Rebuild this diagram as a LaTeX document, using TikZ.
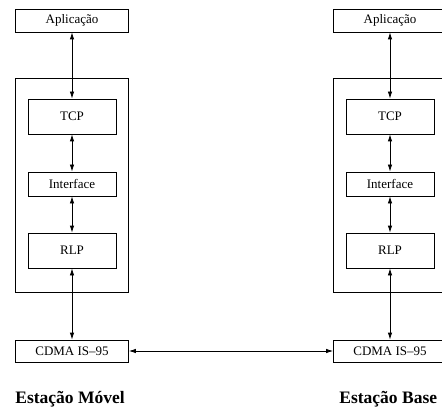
\documentclass[tikz,border=0pt]{standalone}
\usepackage{fontspec}
\setmainfont{Liberation Serif}
\usetikzlibrary{arrows.meta}

\begin{document}
\begin{tikzpicture}
  [x=1pt, y=-1pt, line width=0.8pt,
   camada/.style={draw, inner sep=0pt, minimum width=88pt, minimum height=35pt,
                  font=\fontsize{13}{15}\selectfont},
   fina/.style={camada, minimum height=24pt},
   extremo/.style={camada, minimum width=113pt, minimum height=23pt},
   pilha/.style={draw, inner sep=0pt, minimum width=113pt, minimum height=214pt},
   titulo/.style={anchor=base west, inner sep=0pt, font=\fontsize{17.5}{20}\selectfont\bfseries},
   seta/.style={{Latex[length=7pt,width=4.5pt]}-{Latex[length=7pt,width=4.5pt]}}]
  \useasboundingbox (0,0) rectangle (442,409);
  % estacao movel
  \node [extremo] (aplm) at (72,20.5) {Aplicação};
  \node [pilha]   (pilm) at (72,185) {};
  \node [camada]  (tcpm) at (72,116.5) {TCP};
  \node [fina]    (intm) at (72,184) {Interface};
  \node [camada]  (rlpm) at (72,250.5) {RLP};
  \node [extremo, minimum height=22pt] (cdmam) at (72,351) {CDMA IS--95};
  \node [titulo]  (nomem) at (15,403) {Estação Móvel};
  % estacao base
  \node [extremo] (aplb) at (390,20.5) {Aplicação};
  \node [pilha]   (pilb) at (390,185) {};
  \node [camada]  (tcpb) at (390,116.5) {TCP};
  \node [fina]    (intb) at (390,184) {Interface};
  \node [camada]  (rlpb) at (390,250.5) {RLP};
  \node [extremo, minimum height=22pt] (cdmab) at (390,351) {CDMA IS--95};
  \node [titulo]  (nomeb) at (339,403) {Estação Base};
  % ligacoes
  \draw [seta] (aplm) -- (tcpm);
  \draw [seta] (tcpm) -- (intm);
  \draw [seta] (intm) -- (rlpm);
  \draw [seta] (rlpm) -- (cdmam);
  \draw [seta] (aplb) -- (tcpb);
  \draw [seta] (tcpb) -- (intb);
  \draw [seta] (intb) -- (rlpb);
  \draw [seta] (rlpb) -- (cdmab);
  \draw [seta] (cdmam) -- (cdmab);
\end{tikzpicture}
\end{document}
